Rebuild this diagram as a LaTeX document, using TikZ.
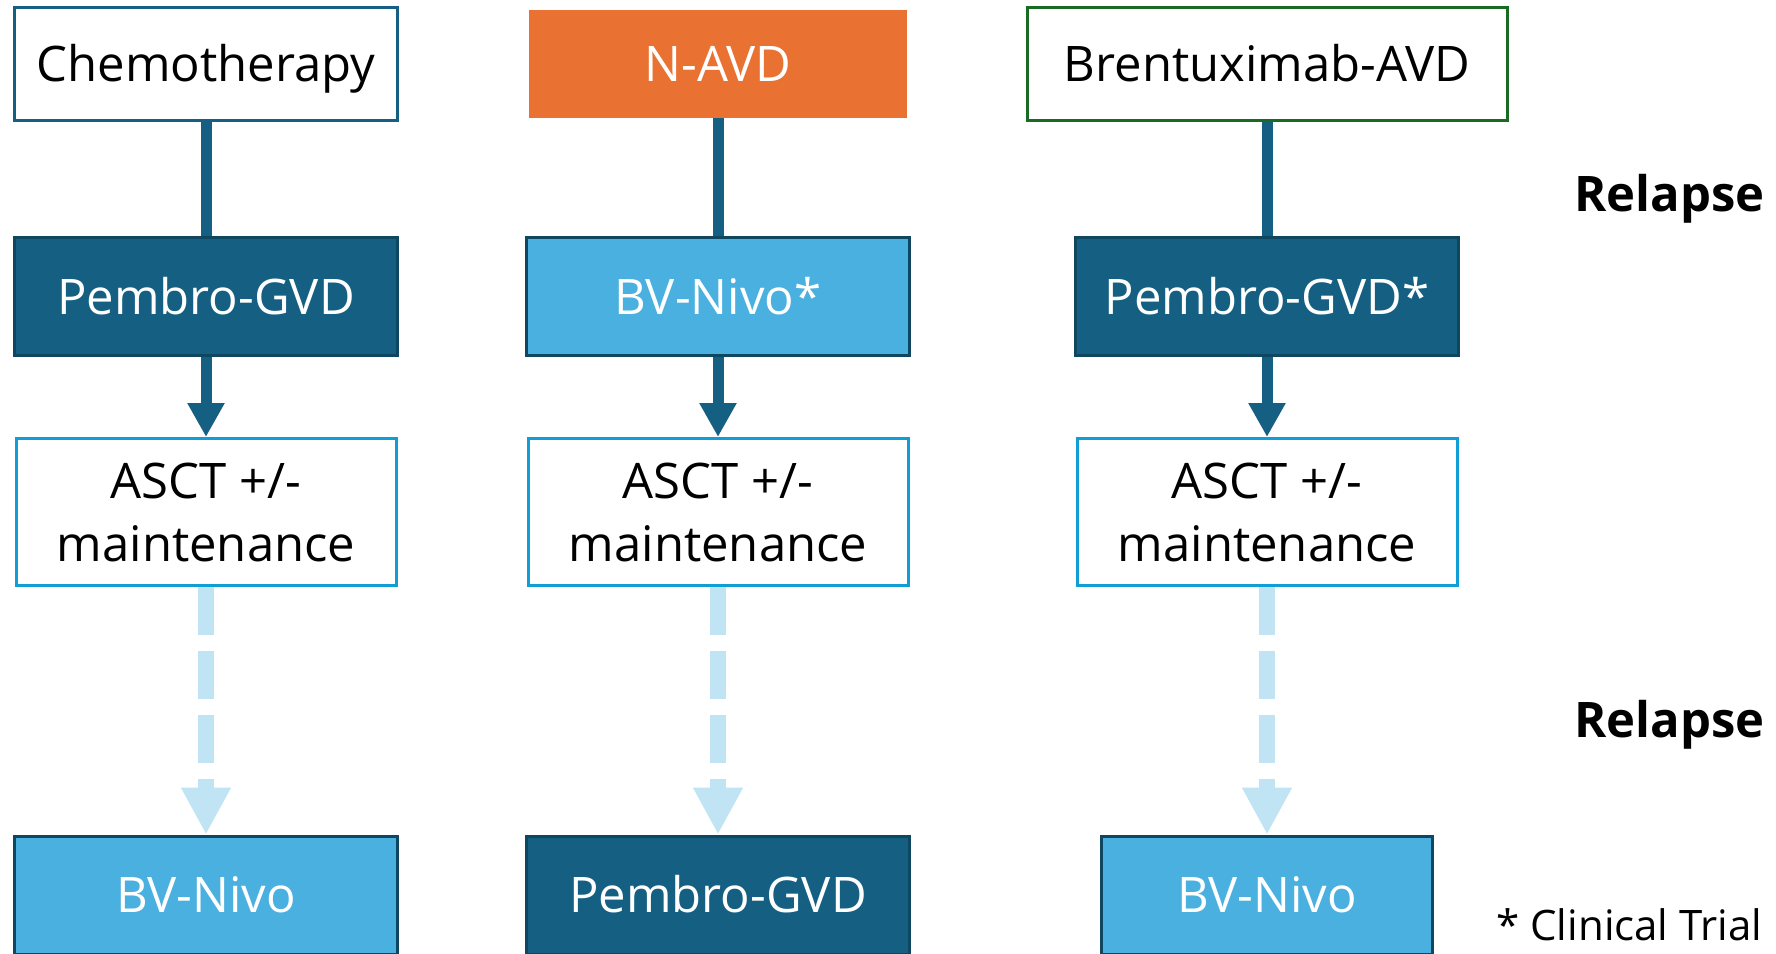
\documentclass[tikz,border=0pt]{standalone}
\usepackage{fontspec}
\setmainfont{Open Sans}
\usepackage{tikz}
\usetikzlibrary{arrows.meta}
\usetikzlibrary{positioning}
\definecolor{deepblue}{HTML}{156082}
\definecolor{deepline}{HTML}{0F4761}
\definecolor{skyblue}{HTML}{4AB0E0}
\definecolor{cyanline}{HTML}{0F9ED5}
\definecolor{paleblue}{HTML}{C1E4F5}
\definecolor{navorange}{HTML}{E97132}
\definecolor{bvgreen}{HTML}{196B24}
\tikzset{lbl/.style={font=\fontsize{24.5}{31.5}\selectfont,inner sep=0pt}}
\tikzset{oneline/.style={text height=17.5pt,text depth=0pt}}
\tikzset{darkbox/.style={lbl,oneline,rectangle,fill=deepblue,draw=deepline,line width=1.5pt,text=white,minimum width=191.5pt,minimum height=59pt}}
\tikzset{skybox/.style={lbl,oneline,rectangle,fill=skyblue,draw=deepline,line width=1.5pt,text=white,minimum width=191.5pt,minimum height=59pt}}
\tikzset{plainbox/.style={lbl,oneline,rectangle,fill=white,line width=1.5pt,text=black,minimum height=56.5pt}}
\tikzset{ascbox/.style={lbl,rectangle,fill=white,draw=cyanline,line width=1.5pt,align=center,minimum width=190pt,minimum height=73.5pt}}

\begin{document}
\begin{tikzpicture}[x=0.5pt,y=-0.5pt]
\path[use as bounding box] (0,0) rectangle (1776,953);
\clip (0,0) rectangle (1776,953);

  \tikzset{
    link/.style={
      draw=deepblue,
      line width=5.5pt
    },
    dlink/.style={
      draw=paleblue,
      line width=7.75pt,
      dash pattern=on 24pt off 8pt,
      -{Triangle[length=23.5pt,width=23.5pt]}
    },
    relapse/.style={
      font=\fontsize{24.5}{29}\selectfont\bfseries,
      inner sep=0pt
    }
  }

% first line of treatment
 \node[plainbox,draw=deepblue,minimum width=191.5pt] (T1) at (206, 64) {Chemotherapy};
 \node[plainbox,fill=navorange,text=white,minimum width=189pt,minimum height=54pt,line width=0pt] (T2) at (718, 64) {N-AVD};
 \node[plainbox,draw=bvgreen,minimum width=240pt] (T3) at (1267, 64) {Brentuximab-AVD};

 \node[darkbox] (M1) at (206, 296.5) {Pembro-GVD};
 \node[skybox] (M2) at (718, 296.5) {BV-Nivo*};
 \node[darkbox] (M3) at (1267, 296.5) {Pembro-GVD*};

 \node[ascbox] (A1) at (206, 512) {ASCT +/-\\maintenance};
 \node[ascbox] (A2) at (718, 512) {ASCT +/-\\maintenance};
 \node[ascbox] (A3) at (1267, 512) {ASCT +/-\\maintenance};

 \node[skybox] (B1) at (206, 895) {BV-Nivo};
 \node[darkbox] (B2) at (718, 895) {Pembro-GVD};
 \node[skybox,minimum width=165.5pt] (B3) at (1267, 895) {BV-Nivo};

\foreach \k in {1, 2, 3}{
             \draw[link] (T\k) -- (M\k);
             \draw[link, -{Triangle[length=17pt,width=17.5pt]}] (M\k) -- (A\k);
             \draw[dlink] (A\k) -- (B\k);
             }

 \node[relapse, anchor=base west] (L1) at (1574, 211) {Relapse};
 \node[relapse, anchor=base west] (L2) at (1574, 737) {Relapse};
 \node[font=\fontsize{21}{25}\selectfont, inner sep=0pt, anchor=base west] (N) at (1496, 940) {* Clinical Trial};

\end{tikzpicture}
\end{document}
